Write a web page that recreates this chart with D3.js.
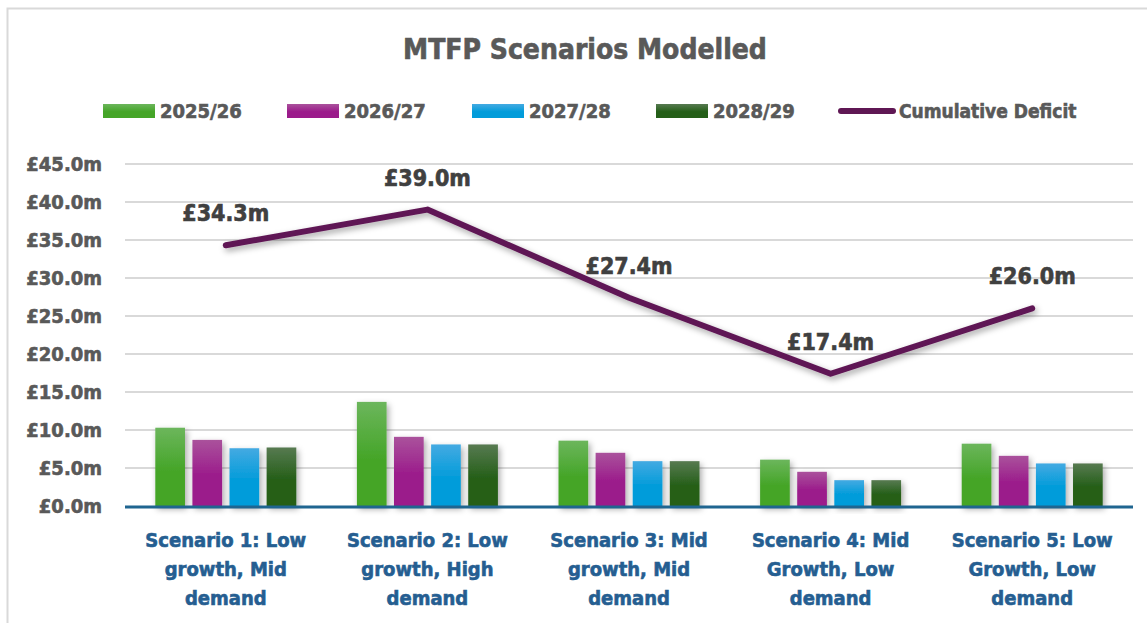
<!DOCTYPE html>
<head>
    <meta charset="utf-8">
    <script src="https://d3js.org/d3.v7.min.js"></script>
    <style>
        body { margin: 0; background: #fff; }
        text { font-family: "DejaVu Sans Condensed", "Liberation Sans Narrow", sans-serif; font-weight: bold; }
        .heavy { stroke-width: 0.6px; }
    </style>
</head>
<body>
    <svg width="1147" height="623"></svg>
    <script>
        // chart data
        var scenarios = [
            ["Scenario 1: Low", "growth, Mid", "demand"],
            ["Scenario 2: Low", "growth, High", "demand"],
            ["Scenario 3: Mid", "growth, Mid", "demand"],
            ["Scenario 4: Mid", "Growth, Low", "demand"],
            ["Scenario 5: Low", "Growth, Low", "demand"]
        ];
        var years = ["2025/26", "2026/27", "2027/28", "2028/29"];
        var y2025 = [10.3, 13.7, 8.6, 6.1, 8.2];
        var y2026 = [8.7, 9.1, 7.0, 4.5, 6.6];
        var y2027 = [7.6, 8.1, 5.9, 3.4, 5.6];
        var y2028 = [7.7, 8.1, 5.9, 3.4, 5.6];
        var cumulative = [34.3, 39.0, 27.4, 17.4, 26.0];
        var yTicks = [0, 5, 10, 15, 20, 25, 30, 35, 40, 45];

        var series = [y2025, y2026, y2027, y2028];
        var colors = [
            ["#6cb65c", "#45a528"],
            ["#aa529c", "#9b1b8b"],
            ["#44aae2", "#029cda"],
            ["#577a51", "#255f18"]
        ];
        var lineColor = "#5f1754";

        var svg = d3.select("svg");
        var defs = svg.append("defs");

        colors.forEach(function (c, i) {
            var g = defs.append("linearGradient").attr("id", "grad" + i)
                .attr("x1", 0).attr("y1", 0).attr("x2", 0).attr("y2", 1);
            g.append("stop").attr("offset", "0%").attr("stop-color", c[0]);
            g.append("stop").attr("offset", "55%").attr("stop-color", c[1]);
            g.append("stop").attr("offset", "100%").attr("stop-color", c[1]);
        });

        var shadow = defs.append("filter").attr("id", "shadow")
            .attr("x", "-30%").attr("y", "-30%").attr("width", "160%").attr("height", "160%");
        shadow.append("feDropShadow").attr("dx", 2).attr("dy", 3).attr("stdDeviation", 3)
            .attr("flood-color", "#000").attr("flood-opacity", 0.35);

        // outer border
        svg.append("rect").attr("x", 7.5).attr("y", 8.5).attr("width", 1300).attr("height", 800)
            .attr("fill", "none").attr("stroke", "#d9d9d9").attr("stroke-width", 2);

        var x = d3.scaleBand().domain(d3.range(scenarios.length)).range([125, 1133]);
        var xSub = d3.scaleBand().domain(d3.range(years.length))
            .range([0, 141]).paddingInner(0.2);
        var y = d3.scaleLinear().domain([0, 45]).range([506, 164]);

        // title
        svg.append("text").attr("class", "heavy").attr("x", 585).attr("y", 59).attr("text-anchor", "middle")
            .attr("font-size", 28).attr("fill", "#595959").attr("stroke", "#595959")
            .text("MTFP Scenarios Modelled");

        // gridlines
        svg.append("g").selectAll("line").data(yTicks.slice(1)).join("line")
            .attr("x1", 125).attr("x2", 1133)
            .attr("y1", d => y(d)).attr("y2", d => y(d))
            .attr("stroke", "#d9d9d9").attr("stroke-width", 2);

        // y axis
        var yAxis = d3.axisLeft(y).tickValues(yTicks).tickSize(0).tickPadding(0)
            .tickFormat(d => "£" + d.toFixed(1) + "m");
        var yg = svg.append("g").attr("transform", "translate(102,0)").call(yAxis);
        yg.select(".domain").remove();
        yg.selectAll("text").attr("font-size", 20).attr("fill", "#595959")
            .attr("stroke", "#595959").attr("class", "heavy")
            .attr("font-family", "\"DejaVu Sans Condensed\", \"Liberation Sans Narrow\", sans-serif")
            .attr("font-weight", "bold");

        // bars
        var groups = svg.append("g").selectAll("g").data(scenarios).join("g")
            .attr("transform", (d, i) => "translate(" + (x(i) + x.bandwidth() / 2 - 70.5) + ",0)");
        groups.selectAll("rect").data((d, i) => series.map((s, k) => ({ k: k, v: s[i] })))
            .join("rect")
            .attr("x", d => xSub(d.k))
            .attr("width", xSub.bandwidth())
            .attr("y", d => y(d.v))
            .attr("height", d => y(0) - y(d.v))
            .attr("fill", d => "url(#grad" + d.k + ")")
            .attr("filter", "url(#shadow)");

        // x axis line
        svg.append("line").attr("x1", 125).attr("x2", 1133).attr("y1", y(0) + 1).attr("y2", y(0) + 1)
            .attr("stroke", "#1f6590").attr("stroke-width", 3);

        // x labels
        var xl = svg.append("g").selectAll("text").data(scenarios).join("text")
            .attr("class", "heavy").attr("stroke", "#255e91")
            .attr("text-anchor", "middle").attr("font-size", 20).attr("fill", "#255e91");
        xl.selectAll("tspan").data((d, i) => d.map(t => ({ t: t, i: i }))).join("tspan")
            .attr("x", d => x(d.i) + x.bandwidth() / 2)
            .attr("y", (d, j) => 547 + j * 29)
            .text(d => d.t);

        // cumulative line
        var line = d3.line().x((d, i) => x(i) + x.bandwidth() / 2).y(d => y(d));
        svg.append("path").datum(cumulative).attr("d", line)
            .attr("fill", "none").attr("stroke", lineColor).attr("stroke-width", 6)
            .attr("stroke-linecap", "round").attr("stroke-linejoin", "round")
            .attr("filter", "url(#shadow)");

        svg.append("g").selectAll("text").data(cumulative).join("text")
            .attr("class", "heavy").attr("stroke", "#404040")
            .attr("x", (d, i) => x(i) + x.bandwidth() / 2)
            .attr("y", d => y(d) - 24)
            .attr("text-anchor", "middle").attr("font-size", 23).attr("fill", "#404040")
            .text(d => "£" + d.toFixed(1) + "m");

        // legend
        var legendItems = years.map((t, i) => ({ t: t, x: [103, 287, 472, 656][i], i: i }));
        var lg = svg.append("g");
        lg.selectAll("rect").data(legendItems).join("rect")
            .attr("x", d => d.x).attr("y", 104).attr("width", 52).attr("height", 14)
            .attr("fill", d => "url(#grad" + d.i + ")");
        lg.selectAll("text.yr").data(legendItems).join("text").attr("class", "yr heavy")
            .attr("x", d => d.x + 57).attr("y", 118).attr("font-size", 20).attr("fill", "#595959")
            .attr("stroke", "#595959")
            .text(d => d.t);
        lg.append("line").attr("x1", 841).attr("x2", 893).attr("y1", 111).attr("y2", 111)
            .attr("stroke", lineColor).attr("stroke-width", 6).attr("stroke-linecap", "round");
        lg.append("text").attr("class", "heavy").attr("x", 899).attr("y", 118).attr("font-size", 19)
            .attr("fill", "#595959").attr("stroke", "#595959")
            .text("Cumulative Deficit");
    </script>
</body>
